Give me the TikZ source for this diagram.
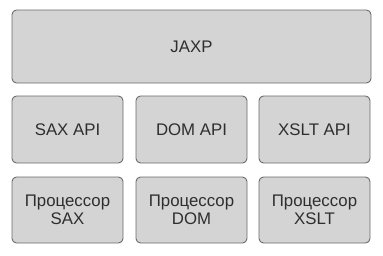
\documentclass[tikz,border=0pt]{standalone}
\usepackage{fontspec}
\setmainfont{Liberation Sans}
\definecolor{boxfill}{HTML}{D4D4D4}
\definecolor{boxline}{HTML}{6A6A6A}
\definecolor{boxtext}{HTML}{2E2E2E}
\begin{document}
\begin{tikzpicture}[x=1pt,y=-1pt,
  layer/.style={draw=boxline,fill=boxfill,line width=0.9pt,rounded corners=4.5pt},
  lbl/.style={text=boxtext,font=\fontsize{16.8}{18.5}\selectfont,align=center}]
\useasboundingbox (0,0) rectangle (383,255);
% top layer
\draw[layer] (12,10) rectangle (371,83);
\node[lbl] (jaxp) at (191.5,46.5) {JAXP};
% API row
\draw[layer] (12,96) rectangle (123,163);
\draw[layer] (136,96) rectangle (247,163);
\draw[layer] (259,96) rectangle (370,163);
\node[lbl] (sax) at (67.5,129.5) {SAX API};
\node[lbl] (dom) at (191.5,129.5) {DOM API};
\node[lbl] (xslt) at (314.5,129.5) {XSLT API};
% processor row
\draw[layer] (12,177) rectangle (123,243);
\draw[layer] (136,177) rectangle (247,243);
\draw[layer] (259,177) rectangle (370,243);
\node[lbl] (psax) at (67.5,210) {Процессор\\SAX};
\node[lbl] (pdom) at (191.5,210) {Процессор\\DOM};
\node[lbl] (pxslt) at (314.5,210) {Процессор\\XSLT};
\end{tikzpicture}
\end{document}
